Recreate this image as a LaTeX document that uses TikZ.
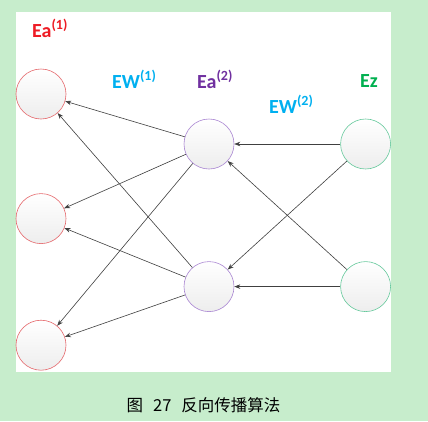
\documentclass[tikz,border=0pt]{standalone}
\usepackage{fontspec}
\setmainfont{Carlito}
\newfontfamily\cjk{Noto Sans CJK SC}
\usetikzlibrary{arrows.meta,positioning}
\definecolor{pagebg}{HTML}{C7EDCC}
\definecolor{edgec}{HTML}{404040}
\definecolor{adraw}{HTML}{E5676B}
\definecolor{hdraw}{HTML}{A985D2}
\definecolor{zdraw}{HTML}{66C99C}
\definecolor{ared}{HTML}{EE1C25}
\definecolor{ewblue}{HTML}{00B0F0}
\definecolor{hpurple}{HTML}{7030A0}
\definecolor{zgreen}{HTML}{00B050}
\tikzset{
  neuron/.style={circle,minimum size=50pt,inner sep=0pt,line width=0.6pt,
    top color=white,bottom color=black!7},
  anode/.style={neuron,draw=adraw},
  hnode/.style={neuron,draw=hdraw},
  znode/.style={neuron,draw=zdraw},
  back/.style={-{Stealth[length=6pt,width=4.5pt]},line width=0.6pt,color=edgec},
  tag/.style={font=\bfseries\fontsize{20}{22}\selectfont,anchor=base west,inner sep=0pt},
  node distance=74pt
}
\begin{document}
\begin{tikzpicture}[x=1pt,y=-1pt]
  \useasboundingbox (0,0) rectangle (428,421);
  \fill[pagebg] (0,0) rectangle (428,421);
  \fill[white] (16,12) rectangle (391,372);
  % layers
  \node[anode] (a1) at (41,94) {};
  \node[anode,below=74pt of a1] (a2) {};
  \node[anode,below=76pt of a2] (a3) {};
  \node[hnode] (h1) at (209,144) {};
  \node[hnode,below=92pt of h1] (h2) {};
  \node[znode,right=106pt of h1] (z1) {};
  \node[znode,right=106pt of h2] (z2) {};
  \foreach \s/\t in {h1/a1,h1/a2,h1/a3,h2/a1,h2/a2,h2/a3,z1/h1,z1/h2,z2/h1,z2/h2}
    \draw[back] (\s) -- (\t);
  % labels
  \node[tag,text=ared] (ea1) at (32,37) {Ea\textsuperscript{(1)}};
  \node[tag,text=ewblue] (ew1) at (112,88) {EW\textsuperscript{(1)}};
  \node[tag,text=hpurple] (ea2) at (197,88) {Ea\textsuperscript{(2)}};
  \node[tag,text=ewblue] (ew2) at (269,113) {EW\textsuperscript{(2)}};
  \node[tag,text=zgreen] (ez) at (360,87) {Ez};
  \node[font=\cjk\fontsize{16.5}{18}\selectfont] (cap) at (203.5,405)
    {图\hspace{0.6em}27\hspace{0.6em}反向传播算法};
\end{tikzpicture}
\end{document}
